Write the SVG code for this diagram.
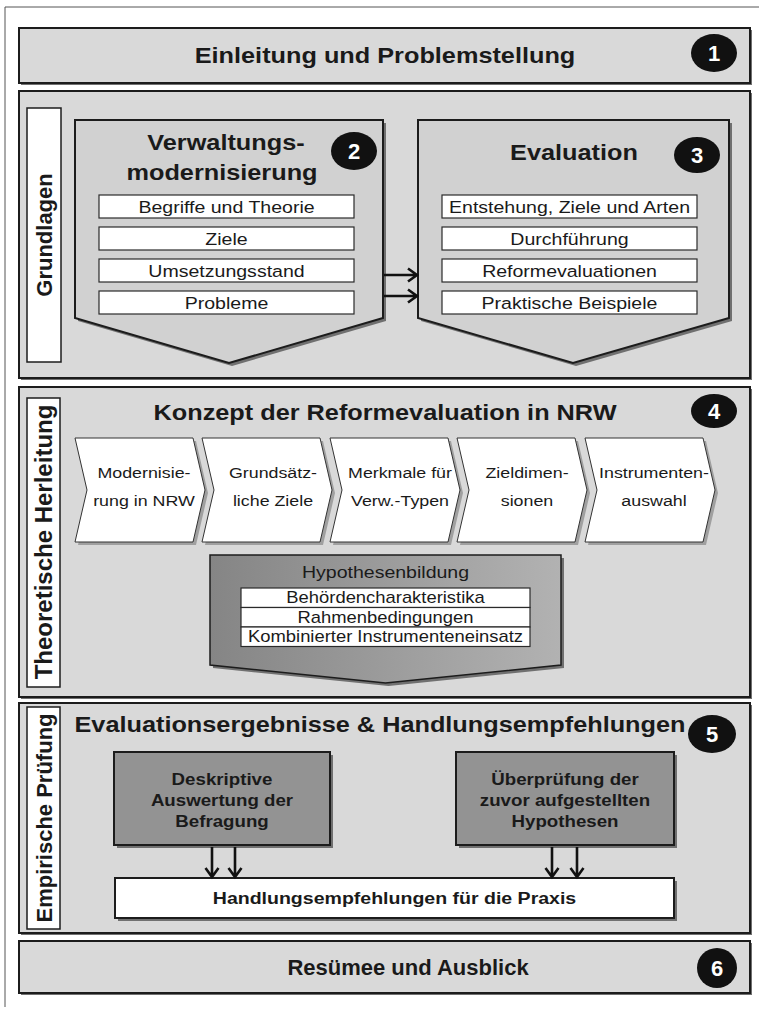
<svg xmlns="http://www.w3.org/2000/svg" xmlns:xlink="http://www.w3.org/1999/xlink" width="759" height="1012" viewBox="0 0 759 1012">
<defs>
<style>
.t{font-family:"Liberation Sans",Arial,Helvetica,sans-serif;fill:#1a1a1a}
.b{font-weight:bold}
.m{text-anchor:middle}
.sec{fill:#d9d9d9;stroke:#1c1c1c;stroke-width:2}
.sh{fill:#707070}
.lbl{fill:#fff;stroke:#1c1c1c;stroke-width:1.5}
.pent{fill:#d1d1d1;stroke:#1c1c1c;stroke-width:2}
.item{fill:#fff;stroke:#2a2a2a;stroke-width:1.2}
.chev{fill:#fff;stroke:#333;stroke-width:1}
.chsh{fill:#a0a0a0}
.dark{fill:#939393;stroke:#1c1c1c;stroke-width:2}
.hyp{fill:url(#hg);stroke:#1c1c1c;stroke-width:1.5}
.num{fill:#fff;font-weight:bold;font-size:22px;font-family:"Liberation Sans",Arial,sans-serif;text-anchor:middle}
.dot{fill:#111}
.arr{fill:none;stroke:#111;stroke-width:2.6}
.h22{font-size:22px}
.i17{font-size:17px}
.c15{font-size:15.5px}
</style>
<linearGradient id="hg" x1="0" y1="0" x2="1" y2="0">
<stop offset="0" stop-color="#858585"/>
<stop offset="1" stop-color="#b2b2b2"/>
</linearGradient>
<path id="chev" d="M0,0 H118 L130,52 L118,104 H0 L12,52 Z"/>
</defs>

<rect x="0" y="0" width="759" height="1012" fill="#ffffff"/>
<path d="M5,1007 V7 H759" fill="none" stroke="#555" stroke-width="1"/>

<!-- Box 1 -->
<g id="n1">
<rect class="sh" x="21" y="30" width="731" height="55"/>
<rect class="sec" x="19" y="28" width="731" height="55"/>
<text class="t b m h22" transform="translate(385,63) scale(1.15,1)">Einleitung und Problemstellung</text>
<ellipse class="dot" cx="714" cy="53" rx="23" ry="19"/>
<text class="num" x="714" y="61">1</text>
</g>

<!-- Section 2 -->
<g id="sec-grundlagen">
<rect class="sh" x="21" y="93" width="731" height="287"/>
<rect class="sec" x="19" y="91" width="731" height="287"/>
<rect class="lbl" x="27" y="108" width="34" height="254"/>
<text class="t b m h22" transform="translate(52,235) rotate(-90)">Grundlagen</text>
</g>

<g id="n2">
<polygon class="sh" points="78,123 386,123 386,321 232,366 78,321"/>
<polygon class="pent" points="75,120 383,120 383,318 229,363 75,318"/>
<text class="t b m h22" transform="translate(226,150) scale(1.15,1)">Verwaltungs-</text>
<text class="t b m h22" transform="translate(222,180) scale(1.15,1)">modernisierung</text>
<ellipse class="dot" cx="354" cy="151" rx="23" ry="19"/>
<text class="num" x="354" y="159">2</text>
<rect class="item" x="99" y="195" width="255" height="23"/>
<rect class="item" x="99" y="227" width="255" height="23"/>
<rect class="item" x="99" y="259" width="255" height="23"/>
<rect class="item" x="99" y="291" width="255" height="23"/>
<text class="t m i17" transform="translate(226.5,212.5) scale(1.15,1)">Begriffe und Theorie</text>
<text class="t m i17" transform="translate(226.5,244.5) scale(1.15,1)">Ziele</text>
<text class="t m i17" transform="translate(226.5,276.5) scale(1.15,1)">Umsetzungsstand</text>
<text class="t m i17" transform="translate(226.5,308.5) scale(1.15,1)">Probleme</text>
</g>

<g id="n3">
<polygon class="sh" points="421,123 732,123 732,321 576,366 421,321"/>
<polygon class="pent" points="418,120 729,120 729,318 573,363 418,318"/>
<text class="t b m h22" transform="translate(574,160) scale(1.15,1)">Evaluation</text>
<ellipse class="dot" cx="697" cy="155" rx="23" ry="18"/>
<text class="num" x="697" y="163">3</text>
<rect class="item" x="442" y="195" width="255" height="23"/>
<rect class="item" x="442" y="227" width="255" height="23"/>
<rect class="item" x="442" y="259" width="255" height="23"/>
<rect class="item" x="442" y="291" width="255" height="23"/>
<text class="t m i17" transform="translate(569.5,212.5) scale(1.15,1)">Entstehung, Ziele und Arten</text>
<text class="t m i17" transform="translate(569.5,244.5) scale(1.15,1)">Durchführung</text>
<text class="t m i17" transform="translate(569.5,276.5) scale(1.15,1)">Reformevaluationen</text>
<text class="t m i17" transform="translate(569.5,308.5) scale(1.15,1)">Praktische Beispiele</text>
</g>

<!-- Section 4 -->
<g id="sec-theorie">
<rect class="sh" x="21" y="389" width="731" height="310"/>
<rect class="sec" x="19" y="387" width="731" height="310"/>
<rect class="lbl" x="27" y="398" width="33" height="289"/>
<text class="t b m" font-size="24" transform="translate(52,542) rotate(-90)">Theoretische Herleitung</text>
<text class="t b m h22" transform="translate(385,420) scale(1.15,1)">Konzept der Reformevaluation in NRW</text>
</g>
<g id="n4">
<ellipse class="dot" cx="714" cy="411" rx="23" ry="17"/>
<text class="num" x="714" y="419">4</text>
</g>

<g id="chev1">
<use xlink:href="#chev" class="chsh" x="78" y="441"/>
<use xlink:href="#chev" class="chev" x="75" y="438"/>
<text class="t m c15" transform="translate(144,478) scale(1.15,1)">Modernisie-</text>
<text class="t m c15" transform="translate(144,506) scale(1.15,1)">rung in NRW</text>
</g>
<g id="chev2">
<use xlink:href="#chev" class="chsh" x="205" y="441"/>
<use xlink:href="#chev" class="chev" x="202" y="438"/>
<text class="t m c15" transform="translate(273,478) scale(1.15,1)">Grundsätz-</text>
<text class="t m c15" transform="translate(273,506) scale(1.15,1)">liche Ziele</text>
</g>
<g id="chev3">
<use xlink:href="#chev" class="chsh" x="333" y="441"/>
<use xlink:href="#chev" class="chev" x="330" y="438"/>
<text class="t m c15" transform="translate(400,478) scale(1.15,1)">Merkmale für</text>
<text class="t m c15" transform="translate(400,506) scale(1.15,1)">Verw.-Typen</text>
</g>
<g id="chev4">
<use xlink:href="#chev" class="chsh" x="460" y="441"/>
<use xlink:href="#chev" class="chev" x="457" y="438"/>
<text class="t m c15" transform="translate(527,478) scale(1.15,1)">Zieldimen-</text>
<text class="t m c15" transform="translate(527,506) scale(1.15,1)">sionen</text>
</g>
<g id="chev5">
<use xlink:href="#chev" class="chsh" x="588" y="441"/>
<use xlink:href="#chev" class="chev" x="585" y="438"/>
<text class="t m c15" transform="translate(654,478) scale(1.15,1)">Instrumenten-</text>
<text class="t m c15" transform="translate(654,506) scale(1.15,1)">auswahl</text>
</g>

<g id="hypothesen">
<polygon class="sh" points="213,558 564,558 564,668 388.5,686 213,668"/>
<polygon class="hyp" points="210,555 561,555 561,665 385.5,683 210,665"/>
<text class="t m i17" transform="translate(385.5,578) scale(1.15,1)">Hypothesenbildung</text>
<rect class="item" x="241" y="588" width="289" height="19.5"/>
<rect class="item" x="241" y="607.5" width="289" height="19.5"/>
<rect class="item" x="241" y="627" width="289" height="19.5"/>
<text class="t m" font-size="16" transform="translate(385.5,603) scale(1.15,1)">Behördencharakteristika</text>
<text class="t m" font-size="16" transform="translate(385.5,622.5) scale(1.15,1)">Rahmenbedingungen</text>
<text class="t m" font-size="16" transform="translate(385.5,642) scale(1.15,1)">Kombinierter Instrumenteneinsatz</text>
</g>

<!-- Section 5 -->
<g id="sec-empirie">
<rect class="sh" x="21" y="705" width="731" height="230"/>
<rect class="sec" x="19" y="703" width="731" height="230"/>
<rect class="lbl" x="27" y="707" width="33" height="222"/>
<text class="t b m h22" transform="translate(52,818) rotate(-90)">Empirische Prüfung</text>
<text class="t b m h22" transform="translate(380,732) scale(1.15,1)">Evaluationsergebnisse &amp; Handlungsempfehlungen</text>
</g>
<g id="n5">
<ellipse class="dot" cx="712" cy="734" rx="24" ry="19"/>
<text class="num" x="712" y="742">5</text>
</g>

<g id="deskriptiv">
<rect class="sh" x="117" y="755" width="216" height="93"/>
<rect class="dark" x="114" y="752" width="216" height="93"/>
<text class="t b m i17" fill="#222" transform="translate(222,785) scale(1.1,1)">Deskriptive</text>
<text class="t b m i17" transform="translate(222,806) scale(1.1,1)">Auswertung der</text>
<text class="t b m i17" transform="translate(222,827) scale(1.1,1)">Befragung</text>
</g>

<g id="ueberpruefung">
<rect class="sh" x="459" y="755" width="218" height="93"/>
<rect class="dark" x="456" y="752" width="218" height="93"/>
<text class="t b m i17" transform="translate(565,785) scale(1.1,1)">Überprüfung der</text>
<text class="t b m i17" transform="translate(565,806) scale(1.1,1)">zuvor aufgestellten</text>
<text class="t b m i17" transform="translate(565,827) scale(1.1,1)">Hypothesen</text>
</g>

<g id="praxis">
<rect class="sh" x="118" y="881" width="559" height="40"/>
<rect x="115" y="878" width="559" height="40" fill="#fff" stroke="#1c1c1c" stroke-width="2"/>
<text class="t b m i17" transform="translate(394.5,904) scale(1.15,1)">Handlungsempfehlungen für die Praxis</text>
</g>

<!-- Box 6 -->
<g id="n6">
<rect class="sh" x="21" y="943" width="731" height="52"/>
<rect class="sec" x="19" y="941" width="731" height="52"/>
<text class="t b m h22" x="408" y="975">Resümee und Ausblick</text>
<ellipse class="dot" cx="717" cy="968" rx="20" ry="20"/>
<text class="num" x="717" y="976">6</text>
</g>

<!-- Connectors -->
<g id="connectors">
<path class="arr" d="M384,275 H416 M408,268.5 L417,275 L408,281.5"/>
<path class="arr" d="M384,296 H416 M408,289.5 L417,296 L408,302.5"/>
<path class="arr" d="M212,847 V876 M205.5,868 L212,877 L218.5,868"/>
<path class="arr" d="M235,847 V876 M228.5,868 L235,877 L241.5,868"/>
<path class="arr" d="M552,847 V876 M545.5,868 L552,877 L558.5,868"/>
<path class="arr" d="M577,847 V876 M570.5,868 L577,877 L583.5,868"/>
</g>
</svg>
